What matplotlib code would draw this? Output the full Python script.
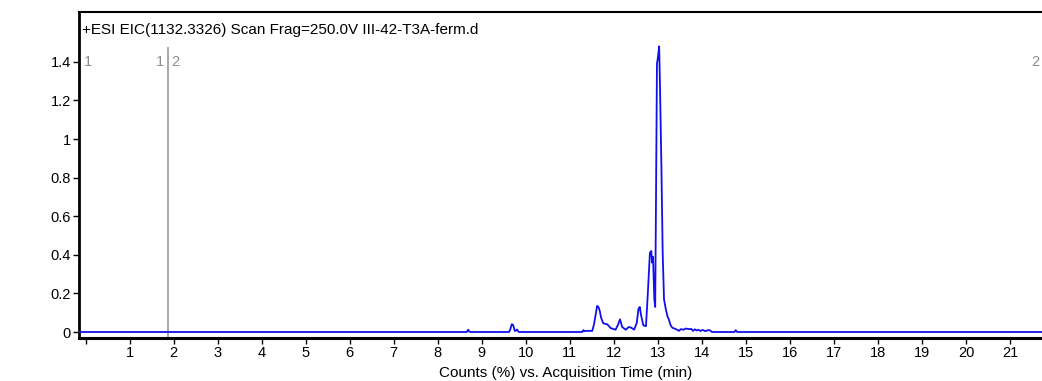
import matplotlib
matplotlib.use("Agg")
import matplotlib.pyplot as plt

# ---- data ----
acq_time = [-0.15, 8.66, 8.69, 8.71, 8.74, 9.62, 9.65, 9.68, 9.71, 9.75, 9.77, 9.80, 9.84,
            11.28, 11.31, 11.33, 11.36, 11.51, 11.55, 11.58, 11.62, 11.65, 11.68, 11.71,
            11.76, 11.85, 11.93, 12.04, 12.09, 12.14, 12.19, 12.27, 12.34, 12.40, 12.46,
            12.52, 12.56, 12.59, 12.62, 12.67, 12.73, 12.77, 12.82, 12.85, 12.87, 12.89,
            12.92, 12.94, 12.96, 12.98, 13.00, 13.03, 13.05, 13.08, 13.11, 13.14, 13.18,
            13.22, 13.25, 13.29, 13.33, 13.41, 13.48, 13.52, 13.58, 13.64, 13.70, 13.76,
            13.80, 13.84, 13.88, 13.92, 13.97, 14.02, 14.08, 14.14, 14.19, 14.23, 14.74,
            14.77, 14.80, 21.75]
counts = [0.0, 0.0, 0.012, 0.004, 0.0, 0.0, 0.015, 0.040, 0.038, 0.006, 0.006, 0.013, 0.0,
          0.0, 0.010, 0.004, 0.006, 0.006, 0.040, 0.080, 0.135, 0.130, 0.110, 0.075,
          0.045, 0.040, 0.020, 0.012, 0.035, 0.066, 0.026, 0.012, 0.026, 0.022, 0.012,
          0.046, 0.120, 0.130, 0.086, 0.035, 0.030, 0.190, 0.410, 0.420, 0.360, 0.390,
          0.170, 0.130, 0.740, 1.390, 1.420, 1.480, 1.260, 0.870, 0.410, 0.170, 0.120,
          0.080, 0.065, 0.035, 0.022, 0.015, 0.006, 0.015, 0.012, 0.018, 0.015, 0.016,
          0.006, 0.014, 0.008, 0.012, 0.005, 0.011, 0.004, 0.010, 0.008, 0.0, 0.0,
          0.010, 0.0, 0.0]

title_text = "+ESI EIC(1132.3326) Scan Frag=250.0V III-42-T3A-ferm.d"
x_label = "Counts (%) vs. Acquisition Time (min)"
x_ticks = list(range(0, 22))
x_tick_labels = [""] + [str(i) for i in range(1, 22)]
y_ticks = [0, 0.2, 0.4, 0.6, 0.8, 1.0, 1.2, 1.4]
y_tick_labels = ["0", "0.2", "0.4", "0.6", "0.8", "1", "1.2", "1.4"]
marker_time = 1.88

plt.rcParams['font.family'] = ['Liberation Sans', 'DejaVu Sans']

W, H = 1042, 381
fig = plt.figure(figsize=(W / 100, H / 100), dpi=100)
ax_left, ax_right, ax_top, ax_bottom = 79, 1043, 12, 338
ax = fig.add_axes([ax_left / W, 1 - ax_bottom / H, (ax_right - ax_left) / W, (ax_bottom - ax_top) / H])

ax.plot(acq_time, counts, color='#1010ee', lw=1.3, zorder=3)
ax.axvline(marker_time, ymin=0, ymax=(338 - 48) / (338 - 12), color='#a0a0a0', lw=1.3, zorder=2)

ax.set_xlim(-0.15, 21.75)
ax.set_ylim(-0.031, 1.658)
ax.set_xticks(x_ticks)
ax.set_xticklabels(x_tick_labels)
ax.set_yticks(y_ticks)
ax.set_yticklabels(y_tick_labels)
ax.tick_params(axis='both', direction='out', length=4, width=1, labelsize=10.5, colors='black', pad=2)

ax.spines['right'].set_visible(False)
ax.spines['left'].set_linewidth(2)
ax.spines['bottom'].set_linewidth(2.2)
ax.spines['top'].set_linewidth(1.5)

fig.text(82 / W, 1 - 30 / H, title_text, fontsize=11, ha='left', va='center', color='black')
gray = '#8c8c8c'
ax.text(-0.03, 1.4, "1", fontsize=10.5, color=gray, ha='left', va='center')
ax.text(marker_time - 0.1, 1.4, "1", fontsize=10.5, color=gray, ha='right', va='center')
ax.text(marker_time + 0.06, 1.4, "2", fontsize=10.5, color=gray, ha='left', va='center')
ax.text(21.48, 1.4, "2", fontsize=10.5, color=gray, ha='left', va='center')

fig.text(566 / W, 1 - 373 / H, x_label, fontsize=11, ha='center', va='center')

fig.savefig("out.png", dpi=100)
